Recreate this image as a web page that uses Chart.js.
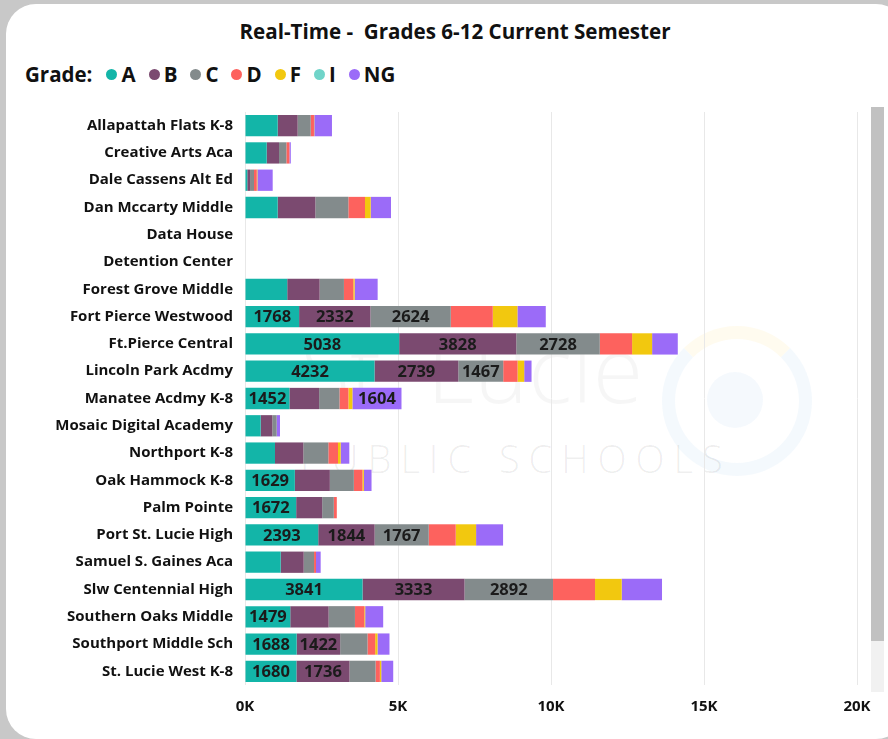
<!DOCTYPE html>
<html>
<head>
<meta charset="utf-8">
<script src="https://cdn.jsdelivr.net/npm/chart.js@4.4.1/dist/chart.umd.min.js"></script>
<style>
  html, body { margin:0; padding:0; }
  body { width:888px; height:739px; background:#c8c8c8; position:relative; overflow:hidden; font-family: "Open Sans", sans-serif; }
  #card { position:absolute; left:6px; top:4px; width:900px; height:735px; background:#fff; border-radius:30px; overflow:hidden; }
  #wm { position:absolute; left:0; top:0; width:888px; height:739px; pointer-events:none; }
  #wm .t1 { position:absolute; left:300px; top:305px; font-size:92px; font-family:"Open Sans", sans-serif; font-weight:300; color:rgba(0,0,0,0.035); }
  #wm .t2 { position:absolute; left:300px; top:432px; font-size:38px; letter-spacing:9px; font-family:"Open Sans", sans-serif; font-weight:300; color:rgba(0,0,0,0.07); }
  #wm .c1 { position:absolute; left:662px; top:326px; width:124px; height:124px; border-radius:50%; border:13px solid rgba(120,180,230,0.08); border-top-color:rgba(250,210,100,0.10); }
  #wm .c2 { position:absolute; left:707px; top:372px; width:56px; height:56px; border-radius:50%; background:rgba(120,170,230,0.07); }
  #title { position:absolute; left:0; width:910px; top:17px; text-align:center; font-weight:700; font-size:20.6px; color:#111; }
  #legend { position:absolute; left:25px; top:60px; display:flex; align-items:center; font-weight:700; font-size:20.5px; color:#111; }
  #legend .lbl { margin-right:14px; }
  #legend .it { display:flex; align-items:center; margin-right:13px; }
  #legend .dot { width:11px; height:11px; border-radius:50%; margin-right:4px; }
  #wrap { position:absolute; left:0; top:0; width:888px; height:739px; }
  #track { position:absolute; left:871px; top:107px; width:13px; height:585px; background:#f1f1f1; }
  #thumb { position:absolute; left:871px; top:107px; width:13px; height:534px; background:#c1c1c1; }
</style>
</head>
<body>
<div id="card"></div>
<div id="wm"><div class="c1"></div><div class="c2"></div><div class="t1">St. Lucie</div><div class="t2">PUBLIC SCHOOLS</div></div>
<div id="title">Real-Time -&nbsp; Grades 6-12 Current Semester</div>
<div id="legend"><span class="lbl">Grade:</span></div>
<div id="track"></div><div id="thumb"></div>
<div id="wrap"><canvas id="c" width="888" height="739"></canvas></div>
<script>
const schools = ["Allapattah Flats K-8","Creative Arts Aca","Dale Cassens Alt Ed","Dan Mccarty Middle","Data House","Detention Center","Forest Grove Middle","Fort Pierce Westwood","Ft.Pierce Central","Lincoln Park Acdmy","Manatee Acdmy K-8","Mosaic Digital Academy","Northport K-8","Oak Hammock K-8","Palm Pointe","Port St. Lucie High","Samuel S. Gaines Aca","Slw Centennial High","Southern Oaks Middle","Southport Middle Sch","St. Lucie West K-8"];
const grades = ["A","B","C","D","F","I","NG"];
const gradeA  = [1068, 709,  75, 1068, 0, 0, 1380, 1768, 5038, 4232, 1452, 512,  980, 1629, 1672, 2393, 1166, 3841, 1479, 1688, 1680];
const gradeB  = [ 653, 403,  90, 1231, 0, 0, 1059, 2332, 3828, 2739,  970, 380,  926, 1144,  850, 1844,  752, 3333, 1254, 1422, 1736];
const gradeC  = [ 425, 240, 130, 1078, 0, 0,  794, 2624, 2728, 1467,  664, 143,  817,  784,  380, 1767,  338, 2892,  860,  893,  850];
const gradeD  = [ 108, 100,  90,  545, 0, 0,  305, 1373, 1056,  468,  294,   0,  316,  283,   98,  882,   65, 1373,  305,  251,  142];
const gradeF  = [  10,   0,  20,  185, 0, 0,   45,  806,  654,  218,  130,   0,   87,   44,    0,  666,    0,  871,   30,   76,   44];
const gradeI  = [   0,   0,   0,    0, 0, 0,    0,    0,    0,    0,    0,   0,    0,    0,    0,    0,    0,    0,    0,    0,    0];
const gradeNG = [ 578,  45, 500,  664, 0, 0,  752,  926,  839,  240, 1604, 109,  283,  251,    0,  882,  152, 1318,  588,  392,  392];
const xTicks = [0, 5000, 10000, 15000, 20000];
const colors = ["#13B5A8","#7B4A70","#838B8C","#FD625E","#F2C80F","#70D4C9","#9B6BF8"];
const series = [gradeA, gradeB, gradeC, gradeD, gradeF, gradeI, gradeNG];

const leg = document.getElementById('legend');
grades.forEach((g,i)=>{
  const it = document.createElement('span'); it.className='it';
  it.innerHTML = '<span class="dot" style="background:'+colors[i]+'"></span>'+g;
  leg.appendChild(it);
});

const FONT = '"Open Sans", sans-serif';
const labelPlugin = {
  id:'segLabels',
  afterDatasetsDraw(chart){
    const ctx = chart.ctx;
    ctx.save();
    ctx.font = 'bold 16.5px ' + FONT;
    ctx.fillStyle = '#1b1b1b';
    ctx.textAlign = 'center';
    ctx.textBaseline = 'middle';
    chart.data.datasets.forEach((ds, di)=>{
      const meta = chart.getDatasetMeta(di);
      meta.data.forEach((el, i)=>{
        const v = ds.data[i];
        if (v >= 1400) {
          const p = el.getProps(['x','base','y'], true);
          ctx.fillText(String(v), (p.x + p.base)/2, p.y + 1);
        }
      });
    });
    ctx.restore();
  }
};

new Chart(document.getElementById('c'), {
  type:'bar',
  data:{
    labels: schools,
    datasets: grades.map((g,i)=>({
      label:g, data:series[i], backgroundColor:colors[i], borderWidth:0,
      categoryPercentage:0.78, barPercentage:1.0
    }))
  },
  options:{
    indexAxis:'y',
    responsive:false,
    animation:false,
    layout:{ padding:{ top:112, right:31, bottom:0, left:0 } },
    plugins:{ legend:{display:false}, title:{display:false}, tooltip:{enabled:false} },
    scales:{
      x:{
        stacked:true, min:0, max:20000,
        afterBuildTicks(s){ s.ticks = xTicks.map(v=>({value:v})); },
        afterFit(s){ s.height = 54; },
        grid:{ color:'#e8e8e8', drawTicks:false, lineWidth:1 },
        border:{ display:false },
        ticks:{ padding:13, color:'#111', font:{ family:FONT, weight:'bold', size:15 },
          callback:(v)=> (v/1000)+'K' }
      },
      y:{
        stacked:true,
        afterFit(s){ s.width = 245; },
        grid:{ display:false, drawTicks:false },
        border:{ display:false },
        ticks:{ padding:12, color:'#111', font:{ family:FONT, weight:'bold', size:15 } }
      }
    }
  },
  plugins:[labelPlugin]
});
</script>
</body>
</html>
